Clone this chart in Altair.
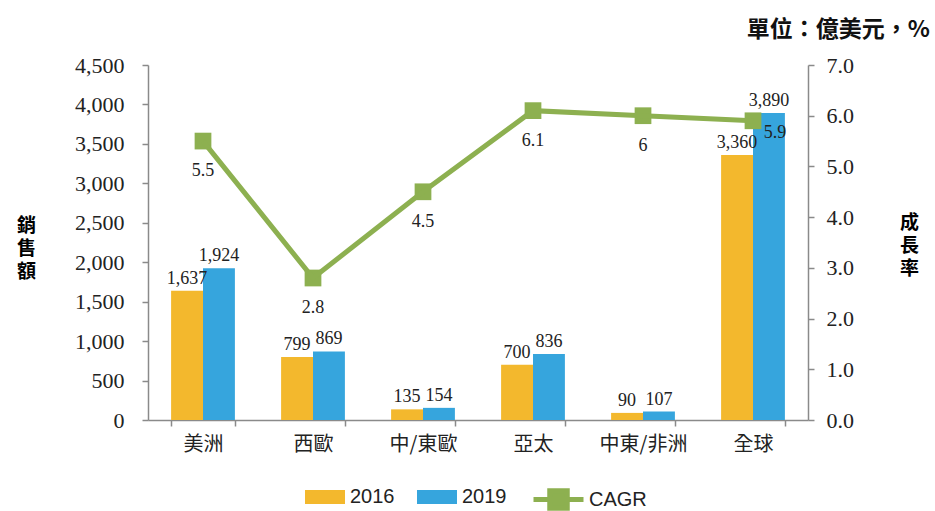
import altair as alt
import pandas as pd

regions = ["美洲", "西歐", "中/東歐", "亞太", "中東/非洲", "全球"]
years = ["2016", "2019"]
sales_2016 = [1637, 799, 135, 700, 90, 3360]
sales_2019 = [1924, 869, 154, 836, 107, 3890]
cagr = [5.5, 2.8, 4.5, 6.1, 6, 5.9]
left_ticks = [0, 500, 1000, 1500, 2000, 2500, 3000, 3500, 4000, 4500]
right_ticks = [0, 1, 2, 3, 4, 5, 6, 7]

ORANGE = "#F3B82D"
BLUE = "#36A5DD"
GREEN = "#8DB050"
AXIS_GRAY = "#8a8a8a"
NUM_FONT = "Liberation Serif"
CJK_FONT = "Noto Sans CJK TC"

bars_df = pd.DataFrame({
    "region": regions * 2,
    "year": [years[0]] * len(regions) + [years[1]] * len(regions),
    "value": sales_2016 + sales_2019,
})
line_df = pd.DataFrame({
    "region": regions,
    "cagr": cagr,
    "label": [f"{v:g}" for v in cagr],
    "series": ["CAGR"] * len(regions),
})

x_enc = alt.X(
    "region:N", sort=regions,
    scale=alt.Scale(paddingInner=0.42, paddingOuter=0.21),
    axis=alt.Axis(title=None, labelAngle=0, tickBand="extent", ticks=True,
                  tickSize=6, tickColor=AXIS_GRAY, domainColor=AXIS_GRAY,
                  domainWidth=1.5, tickWidth=1.5,
                  labelFont=CJK_FONT, labelFontSize=20, labelColor="#222",
                  labelPadding=8, labelBaseline="top"),
)
xoff = alt.XOffset("year:N", sort=years, scale=alt.Scale(paddingInner=0, paddingOuter=0))

y_left = alt.Y(
    "value:Q", scale=alt.Scale(domain=[0, 4500], nice=False),
    axis=alt.Axis(values=left_ticks, format=",.0f", grid=False,
                  title=["銷", "售", "額"], titleAngle=0, titleFont=CJK_FONT,
                  titleFontSize=19, titleFontWeight="bold", titleLineHeight=23,
                  titleX=-122, titleY=160, titleAlign="center", titleBaseline="middle",
                  labelFont=NUM_FONT, labelFontSize=22, labelColor="#222",
                  labelPadding=18, tickSize=6, tickColor=AXIS_GRAY,
                  domainColor=AXIS_GRAY, domainWidth=1.5, tickWidth=1.5),
)

bars = alt.Chart(bars_df).mark_bar().encode(
    x=x_enc, xOffset=xoff, y=y_left,
    color=alt.Color("year:N", sort=years,
                    scale=alt.Scale(domain=years, range=[ORANGE, BLUE]),
                    legend=alt.Legend(
                        title=None, orient="none", legendX=157, legendY=412,
                        direction="horizontal",
                        symbolType="M-1,-0.35L1,-0.35L1,0.35L-1,0.35Z",
                        symbolSize=1600, symbolStrokeWidth=0,
                        labelFont="Liberation Sans", labelFontSize=20,
                        labelColor="#222", labelOffset=5, columnPadding=22,
                        padding=0)),
)
bar_text = alt.Chart(bars_df).mark_text(
    baseline="bottom", dy=-3, font=NUM_FONT, fontSize=18, color="#222"
).encode(
    x=x_enc, xOffset=xoff, y=y_left,
    text=alt.Text("value:Q", format=",.0f"),
)

y_right = alt.Y(
    "cagr:Q", scale=alt.Scale(domain=[0, 7], nice=False),
    axis=alt.Axis(orient="right", values=right_ticks, format=".1f", grid=False,
                  title=["成", "長", "率"], titleAngle=0, titleFont=CJK_FONT,
                  titleFontSize=19, titleFontWeight="bold", titleLineHeight=23,
                  titleX=101, titleY=157, titleAlign="center", titleBaseline="middle",
                  labelFont=NUM_FONT, labelFontSize=22, labelColor="#222",
                  labelPadding=12, tickSize=6, tickColor=AXIS_GRAY,
                  domainColor=AXIS_GRAY, domainWidth=1.5, tickWidth=1.5),
)
color_line = alt.Color(
    "series:N", scale=alt.Scale(domain=["CAGR"], range=[GREEN]),
    legend=alt.Legend(
        title=None, orient="none", legendX=383, legendY=407,
        direction="horizontal",
        symbolType="M-1,0L1,0M-0.35,-0.35L0.35,-0.35L0.35,0.35L-0.35,0.35Z",
        symbolSize=2500, symbolStrokeWidth=5, symbolFillColor=GREEN,
        symbolStrokeColor=GREEN,
        labelFont="Liberation Sans", labelFontSize=20, labelColor="#222",
        labelOffset=3, padding=0),
)

points = alt.Chart(line_df).mark_square(size=280, opacity=1, filled=True).encode(
    x=x_enc, y=y_right, color=color_line)
line = alt.Chart(line_df).mark_line(strokeWidth=5).encode(
    x=x_enc, y=y_right, color=color_line)
line_text = alt.Chart(line_df).transform_filter(
    alt.datum.region != "全球"
).mark_text(baseline="middle", dy=30, font=NUM_FONT, fontSize=18, color="#222").encode(
    x=x_enc, y=y_right, text="label:N")
line_text_last = alt.Chart(line_df).transform_filter(
    alt.datum.region == "全球"
).mark_text(baseline="middle", dx=22, dy=12, font=NUM_FONT, fontSize=18, color="#222").encode(
    x=x_enc, y=y_right, text="label:N")

left = alt.layer(bars, bar_text)
right = alt.layer(points, line, line_text, line_text_last)

chart = alt.layer(left, right).resolve_scale(
    y="independent", color="independent"
).properties(
    width=660, height=355,
    padding={"left": 148, "top": 65, "right": 127, "bottom": 91},
    autosize=alt.AutoSizeParams(type="none"),
    background="white",
    title=alt.TitleParams("單位：億美元，%", anchor="end", frame="group",
                          font=CJK_FONT, fontSize=23, fontWeight="bold",
                          color="#111", dx=122, offset=12),
).configure_view(stroke=None)

chart.save("out.html", embed_options={"renderer": "svg", "actions": False})
